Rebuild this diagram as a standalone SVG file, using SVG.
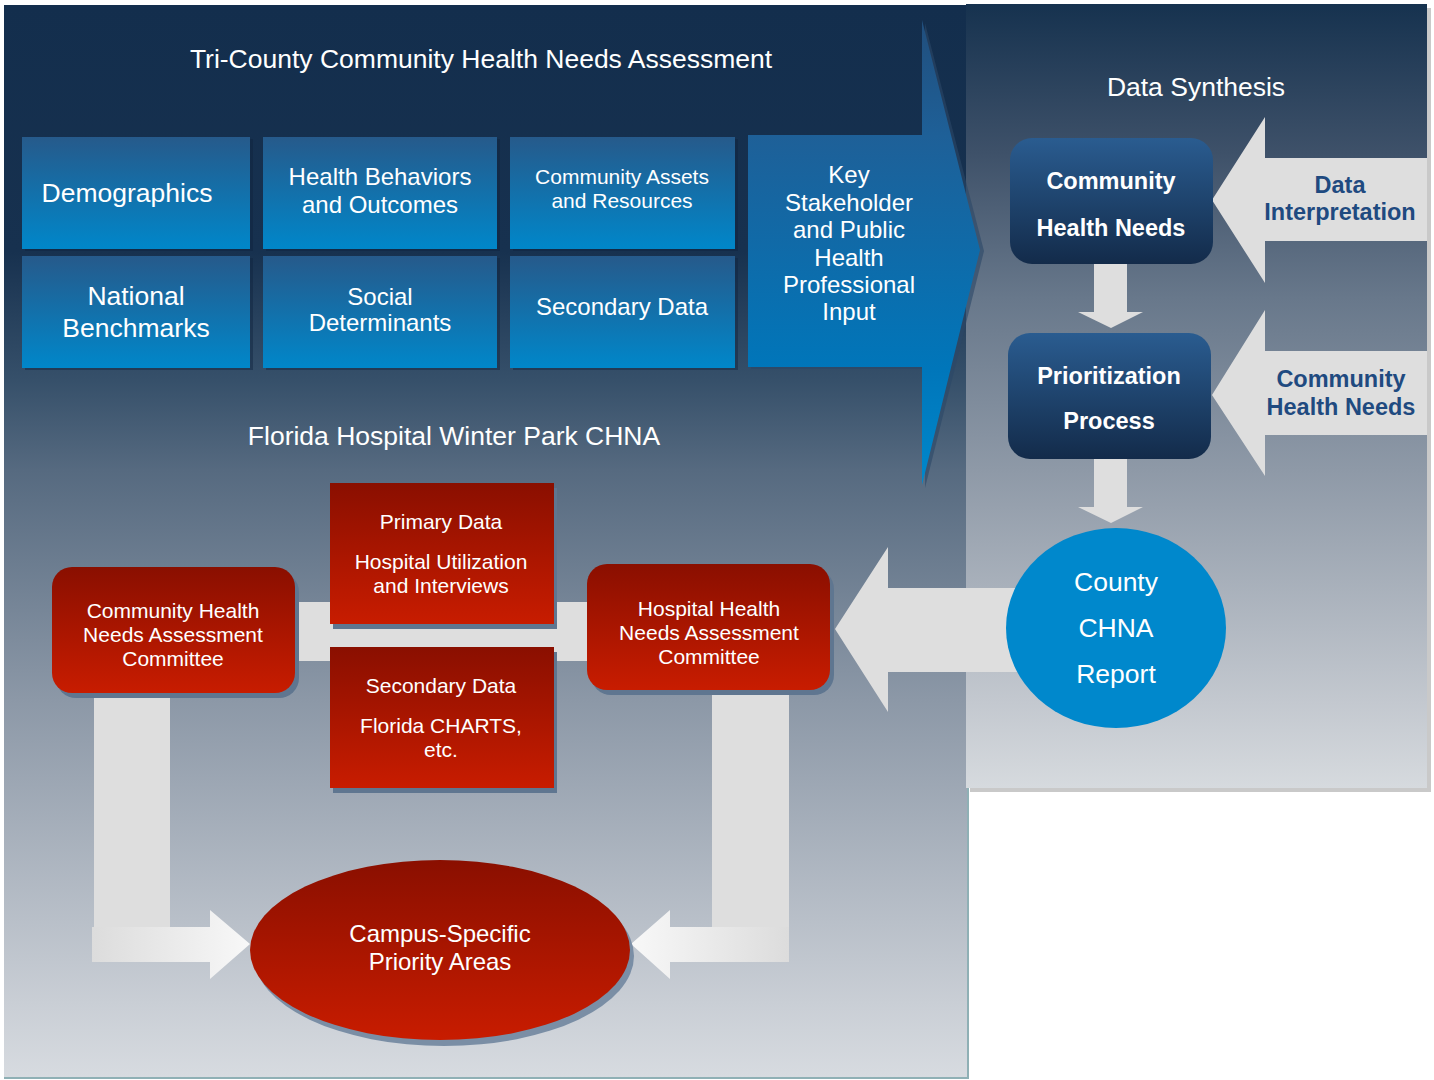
<svg xmlns="http://www.w3.org/2000/svg" width="1434" height="1080" viewBox="0 0 1434 1080">
<style>
text{font-family:"Liberation Sans",Arial,sans-serif;fill:#fff;text-anchor:middle}
.h{font-size:26.5px}
.t24{font-size:24px}
.t21{font-size:21px}
.b{font-size:23.5px;font-weight:bold}
.bd{font-size:23.5px;font-weight:bold;fill:#1f4a80}
.gray{fill:#dedede}
.sh{fill:#10243d;opacity:0.45}
</style>
<defs>
<linearGradient id="bgL" gradientUnits="userSpaceOnUse" x1="0" y1="5" x2="0" y2="1077">
<stop offset="0" stop-color="#132e4d"/><stop offset="0.23" stop-color="#17314f"/><stop offset="0.35" stop-color="#36506a"/><stop offset="0.434" stop-color="#566a80"/><stop offset="0.648" stop-color="#8c98a7"/><stop offset="0.93" stop-color="#c9ced5"/><stop offset="1" stop-color="#d7dbe0"/>
</linearGradient>
<linearGradient id="bgR" gradientUnits="userSpaceOnUse" x1="0" y1="4" x2="0" y2="788">
<stop offset="0" stop-color="#16324f"/><stop offset="0.19" stop-color="#3e5169"/><stop offset="0.376" stop-color="#68788b"/><stop offset="0.594" stop-color="#8e99a7"/><stop offset="0.89" stop-color="#c3c8cf"/><stop offset="1" stop-color="#d6dade"/>
</linearGradient>
<linearGradient id="tile" x1="0" y1="0" x2="0" y2="1">
<stop offset="0" stop-color="#265a8b"/><stop offset="1" stop-color="#0087ca"/>
</linearGradient>
<linearGradient id="blueArrow" gradientUnits="userSpaceOnUse" x1="0" y1="20" x2="0" y2="485">
<stop offset="0" stop-color="#214e7c"/><stop offset="0.25" stop-color="#1e6098"/><stop offset="0.75" stop-color="#0076ba"/><stop offset="1" stop-color="#0088cc"/>
</linearGradient>
<linearGradient id="navy" x1="0" y1="0" x2="0" y2="1">
<stop offset="0" stop-color="#2a5c90"/><stop offset="1" stop-color="#132b4a"/>
</linearGradient>
<linearGradient id="red" x1="0" y1="0" x2="0" y2="1">
<stop offset="0" stop-color="#8a0f00"/><stop offset="1" stop-color="#c81c00"/>
</linearGradient>
<linearGradient id="grayL" gradientUnits="userSpaceOnUse" x1="92" y1="0" x2="250" y2="0">
<stop offset="0" stop-color="#dcdcdc"/><stop offset="1" stop-color="#f8f8f8"/>
</linearGradient>
<linearGradient id="grayR" gradientUnits="userSpaceOnUse" x1="789" y1="0" x2="631" y2="0">
<stop offset="0" stop-color="#dcdcdc"/><stop offset="1" stop-color="#f8f8f8"/>
</linearGradient>
</defs>

<rect width="1434" height="1080" fill="#fff"/>
<g id="panel-left">
<rect x="4" y="5" width="965" height="1074" fill="#8fb0b5"/>
<rect x="4" y="5" width="963" height="1072" fill="url(#bgL)"/>
<text class="h" x="481" y="68">Tri-County Community Health Needs Assessment</text>
<text class="h" x="454" y="445">Florida Hospital Winter Park CHNA</text>
</g>
<g id="panel-right">
<rect x="970" y="8" width="461" height="784" fill="#c9c9c9"/>
<rect x="966" y="4" width="461" height="784" fill="url(#bgR)"/>
<text class="h" x="1196" y="96">Data Synthesis</text>
</g>

<g id="connectors">
<polygon class="gray" points="1094,264 1127,264 1127,312 1143,312 1111,328 1078,312 1094,312"/>
<polygon class="gray" points="1094,459 1127,459 1127,507 1143,507 1111,523 1078,507 1094,507"/>
<polygon class="gray" points="835,629 888,547 888,588 1030,588 1030,672 888,672 888,712"/>
<rect class="gray" x="290" y="602" width="300" height="59"/>
<rect class="gray" x="94" y="688" width="76" height="239"/>
<polygon fill="url(#grayL)" points="92,927 210,927 210,910 250,944 210,979 210,962 92,962"/>
<rect class="gray" x="712" y="686" width="77" height="241"/>
<polygon fill="url(#grayR)" points="789,927 670,927 670,910 631,944 670,979 670,962 789,962"/>
</g>

<g id="arrow-data-interpretation">
<polygon class="gray" points="1212,200 1265,117 1265,158 1427,158 1427,241 1265,241 1265,283"/>
<text class="bd" x="1340" y="193">Data</text>
<text class="bd" x="1340" y="220">Interpretation</text>
</g>
<g id="arrow-community-health-needs">
<polygon class="gray" points="1212,395 1265,310 1265,351 1427,351 1427,435 1265,435 1265,476"/>
<text class="bd" x="1341" y="387">Community</text>
<text class="bd" x="1341" y="415">Health Needs</text>
</g>

<g id="tile-demographics">
<rect class="sh" x="25" y="139" width="228" height="112"/>
<rect x="22" y="137" width="228" height="112" fill="url(#tile)"/>
<text class="h" x="127" y="202">Demographics</text>
</g>
<g id="tile-health-behaviors">
<rect class="sh" x="266" y="139" width="234" height="112"/>
<rect x="263" y="137" width="234" height="112" fill="url(#tile)"/>
<text class="t24" x="380" y="185">Health Behaviors</text>
<text class="t24" x="380" y="213">and Outcomes</text>
</g>
<g id="tile-community-assets">
<rect class="sh" x="513" y="139" width="225" height="112"/>
<rect x="510" y="137" width="225" height="112" fill="url(#tile)"/>
<text class="t21" x="622" y="184">Community Assets</text>
<text class="t21" x="622" y="208">and Resources</text>
</g>
<g id="tile-national-benchmarks">
<rect class="sh" x="25" y="258" width="228" height="112"/>
<rect x="22" y="256" width="228" height="112" fill="url(#tile)"/>
<text class="h" x="136" y="305">National</text>
<text class="h" x="136" y="337">Benchmarks</text>
</g>
<g id="tile-social-determinants">
<rect class="sh" x="266" y="258" width="234" height="112"/>
<rect x="263" y="256" width="234" height="112" fill="url(#tile)"/>
<text class="t24" x="380" y="305">Social</text>
<text class="t24" x="380" y="331">Determinants</text>
</g>
<g id="tile-secondary-data">
<rect class="sh" x="513" y="258" width="225" height="112"/>
<rect x="510" y="256" width="225" height="112" fill="url(#tile)"/>
<text class="t24" x="622" y="315">Secondary Data</text>
</g>

<g id="key-stakeholder">
<polygon points="751,137 925,137 925,23 984,251 925,488 925,369 751,369" fill="#2c4868" opacity="0.6"/>
<polygon points="748,135 922,135 922,20 980,250 922,485 922,367 748,367" fill="url(#blueArrow)"/>
<text class="t24" x="849" y="183">Key</text>
<text class="t24" x="849" y="211">Stakeholder</text>
<text class="t24" x="849" y="238">and Public</text>
<text class="t24" x="849" y="266">Health</text>
<text class="t24" x="849" y="293">Professional</text>
<text class="t24" x="849" y="320">Input</text>
</g>

<g id="community-health-needs">
<rect x="1010" y="138" width="203" height="126" rx="22" fill="url(#navy)"/>
<text class="b" x="1111" y="189">Community</text>
<text class="b" x="1111" y="236">Health Needs</text>
</g>
<g id="prioritization-process">
<rect x="1008" y="333" width="203" height="126" rx="22" fill="url(#navy)"/>
<text class="b" x="1109" y="384">Prioritization</text>
<text class="b" x="1109" y="429">Process</text>
</g>
<g id="county-chna-report">
<ellipse cx="1116" cy="628" rx="110" ry="100" fill="#0088cc"/>
<text class="h" x="1116" y="591">County</text>
<text class="h" x="1116" y="637">CHNA</text>
<text class="h" x="1116" y="683">Report</text>
</g>

<g id="chna-committee">
<rect x="56" y="572" width="243" height="126" rx="20" fill="#5f7690"/>
<rect x="52" y="567" width="243" height="126" rx="20" fill="url(#red)"/>
<text class="t21" x="173" y="618">Community Health</text>
<text class="t21" x="173" y="642">Needs Assessment</text>
<text class="t21" x="173" y="666">Committee</text>
</g>
<g id="primary-data">
<rect x="333" y="488" width="224" height="141" fill="#5f7690"/>
<rect x="330" y="483" width="224" height="141" fill="url(#red)"/>
<text class="t21" x="441" y="529">Primary Data</text>
<text class="t21" x="441" y="569">Hospital Utilization</text>
<text class="t21" x="441" y="593">and Interviews</text>
</g>
<g id="secondary-data-fl">
<rect x="333" y="652" width="224" height="141" fill="#5f7690"/>
<rect x="330" y="647" width="224" height="141" fill="url(#red)"/>
<text class="t21" x="441" y="693">Secondary Data</text>
<text class="t21" x="441" y="733">Florida CHARTS,</text>
<text class="t21" x="441" y="757">etc.</text>
</g>
<g id="hospital-committee">
<rect x="591" y="569" width="243" height="126" rx="20" fill="#5f7690"/>
<rect x="587" y="564" width="243" height="126" rx="20" fill="url(#red)"/>
<text class="t21" x="709" y="616">Hospital Health</text>
<text class="t21" x="709" y="640">Needs Assessment</text>
<text class="t21" x="709" y="664">Committee</text>
</g>
<g id="campus-priority">
<ellipse cx="444" cy="956" rx="190" ry="90" fill="#7a8ea5"/>
<ellipse cx="440" cy="950" rx="190" ry="90" fill="url(#red)"/>
<text class="t24" x="440" y="942">Campus-Specific</text>
<text class="t24" x="440" y="970">Priority Areas</text>
</g>
</svg>
